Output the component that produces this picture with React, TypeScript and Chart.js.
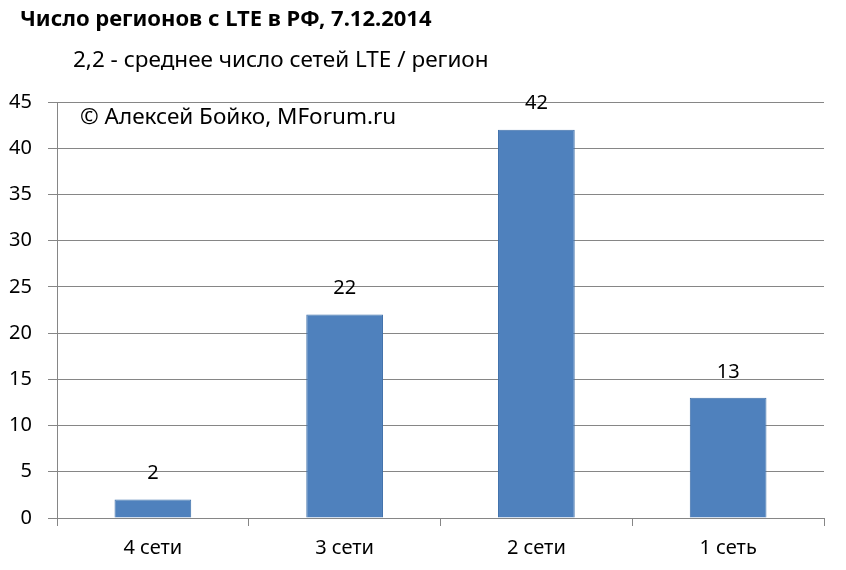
import React, { useEffect, useRef } from "react";
import { Chart, registerables } from "chart.js";

Chart.register(...registerables);

const categories = ["4 сети", "3 сети", "2 сети", "1 сеть"];
const regions = [2, 22, 42, 13];
const titleText = "Число регионов с LTE в РФ, 7.12.2014";
const subtitleText = "2,2 - среднее число сетей LTE / регион";
const copyrightText = "© Алексей Бойко, MForum.ru";

const FONT = "'Noto Sans', 'Open Sans', sans-serif";

const textPlugin = {
  id: "texts",
  afterDraw(chart: any) {
    const ctx = chart.ctx;
    ctx.save();
    ctx.fillStyle = "#000";
    ctx.textBaseline = "middle";
    ctx.textAlign = "left";
    ctx.font = `bold 22px ${FONT}`;
    ctx.fillText(titleText, 20, 20);
    ctx.font = `22.5px ${FONT}`;
    ctx.fillText(subtitleText, 73, 61);
    ctx.font = `22.5px ${FONT}`;
    ctx.fillText(copyrightText, 80, 118);
    // value labels
    const meta = chart.getDatasetMeta(0);
    ctx.textAlign = "center";
    ctx.font = `20px ${FONT}`;
    meta.data.forEach((bar: any, i: number) => {
      ctx.fillText(String(regions[i]), bar.x, bar.y - 26);
    });
    ctx.restore();
  },
};

export default function App() {
  const ref = useRef<HTMLCanvasElement>(null);
  useEffect(() => {
    document.body.style.margin = "0";
    document.body.style.background = "#fff";
    const chart = new Chart(ref.current!, {
      type: "bar",
      data: {
        labels: categories,
        datasets: [
          {
            data: regions,
            backgroundColor: "#4f81bd",
            borderColor: "#3f70aa",
            borderWidth: 1,
            barPercentage: 0.4,
            categoryPercentage: 1,
          },
        ],
      },
      options: {
        animation: false,
        responsive: false,
        layout: { padding: { left: 0, right: 22, top: 102, bottom: 0 } },
        plugins: { legend: { display: false }, tooltip: { enabled: false } },
        scales: {
          x: {
            grid: {
              offset: true,
              drawOnChartArea: false,
              drawTicks: true,
              tickLength: 8,
              color: "#868686",
            },
            border: { color: "#868686", width: 1 },
            ticks: { color: "#000", font: { family: FONT, size: 20 }, padding: 10 },
          },
          y: {
            min: 0,
            max: 45,
            afterFit(scale: any) {
              scale.width = 57;
            },
            ticks: {
              stepSize: 5,
              color: "#000",
              font: { family: FONT, size: 20 },
              padding: 16,
            },
            grid: { color: "#868686", tickLength: 9 },
            border: { color: "#868686", width: 1 },
          },
        },
      },
      plugins: [textPlugin],
    });
    return () => chart.destroy();
  }, []);
  return <canvas ref={ref} width={846} height={570} style={{ display: "block" }} />;
}
